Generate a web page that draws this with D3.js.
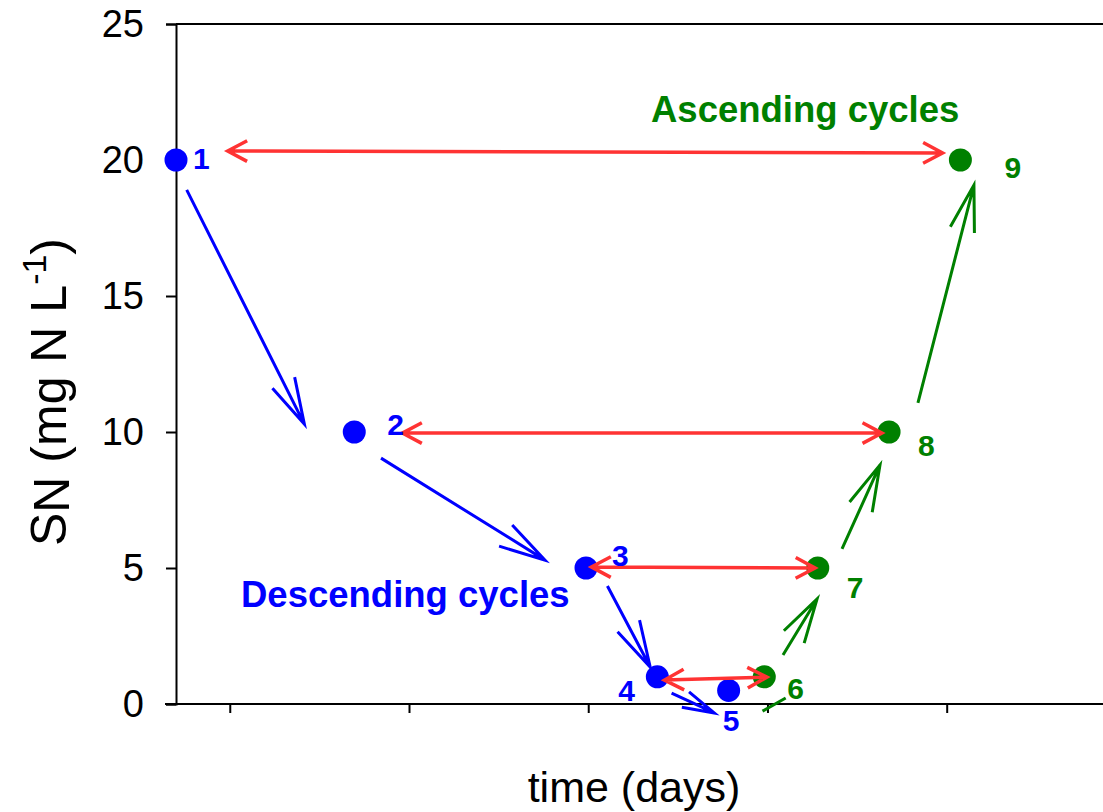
<!DOCTYPE html>
<html>
<head>
<meta charset="utf-8">
<script src="https://cdn.jsdelivr.net/npm/d3@7"></script>
<style>
  html, body { margin: 0; padding: 0; background: #fff; }
  svg { display: block; font-family: Arial, "Liberation Sans", sans-serif; }
</style>
</head>
<body>
<div id="chart"></div>
<script>
// cycle points: time (days) and S_N (mg N/L)
const pointIds = ['1', '2', '3', '4', '5', '6', '7', '8', '9'];
const timeVals = [0.7, 1.7, 3.0, 3.4, 3.8, 4.0, 4.3, 4.7, 5.1];
const snVals = [20, 10, 5, 1, 0.5, 1, 5, 10, 20];
const phase = ['desc', 'desc', 'desc', 'desc', 'desc', 'asc', 'asc', 'asc', 'asc'];

const yTicks = [0, 5, 10, 15, 20, 25];
const xTicks = [1, 2, 3, 4, 5];

// path arrows [x1, y1, x2, y2, head]
const descArrows = [
  [0.76, 18.9, 1.42, 10.29, true],
  [1.85, 9.04, 2.77, 5.29, true],
  [3.12, 4.34, 3.36, 1.36, true],
  [3.48, 0.4, 3.72, -0.33, true]
];
const ascArrows = [
  [3.99, -0.26, 4.12, 0.22, false],
  [4.105, 1.8, 4.296, 3.86, true],
  [4.436, 5.7, 4.649, 8.79, true],
  [4.862, 11.07, 5.176, 19.08, true]
];
// double arrows linking matching concentrations
const cycleLinks = [
  [0.99, 20.33, 5.0, 20.26],
  [1.97, 9.96, 4.66, 9.96],
  [3.03, 5.04, 4.285, 5.0],
  [3.44, 0.88, 4.015, 0.99]
];

// layout
const W = 1103, H = 812;
const colors = { desc: '#0000ff', asc: '#008000', link: '#ff3333' };
const labelOffsets = [[17, 9], [33, 3], [26, -2], [-39, 24], [-6, 41], [23, 22], [29, 30], [29, 24], [44, 18]];

const svg = d3.select('#chart').append('svg').attr('width', W).attr('height', H);

const x = d3.scaleLinear().domain([0.7, 5.9]).range([176, 1103]);
const y = d3.scaleLinear().domain([0, 25]).range([704, 24]);

// top frame line
svg.append('line')
  .attr('x1', x(0.7)).attr('x2', W + 5)
  .attr('y1', y(25)).attr('y2', y(25))
  .attr('stroke', '#000').attr('stroke-width', 2);

const yAxis = svg.append('g')
  .attr('transform', `translate(${x(0.7)},0)`)
  .call(d3.axisLeft(y).tickValues(yTicks).tickSize(10).tickPadding(22));
yAxis.select('.domain').attr('stroke-width', 2);
yAxis.selectAll('.tick line').attr('stroke-width', 2);
yAxis.selectAll('text').attr('font-size', 38).attr('font-family', 'Arial, "Liberation Sans", sans-serif').attr('fill', '#000');

const xAxis = svg.append('g')
  .attr('transform', `translate(0,${y(0)})`)
  .call(d3.axisBottom(x.copy().range([176, W + 5])).tickValues(xTicks).tickSize(9).tickFormat(''));
xAxis.select('.domain').attr('stroke-width', 2).attr('d', `M${x(0.7) - 11},0H${W + 5}`);
xAxis.selectAll('.tick line').attr('stroke-width', 2);

// axis titles
svg.append('text')
  .attr('x', 634).attr('y', 802)
  .attr('text-anchor', 'middle')
  .attr('font-size', 43)
  .text('time (days)');

const yt = svg.append('text')
  .attr('transform', 'translate(66,392) rotate(-90)')
  .attr('text-anchor', 'middle')
  .attr('font-size', 50);
yt.append('tspan').text('S');
yt.append('tspan').attr('dy', 3).text('N');
yt.append('tspan').attr('dy', -3).text(' (mg N L');
yt.append('tspan').attr('font-size', 34).attr('dy', -20).text('-1');
yt.append('tspan').attr('dy', 20).text(')');

function arrowPath(x1, y1, x2, y2, head, ang, start, end) {
  const dx = x2 - x1, dy = y2 - y1;
  const len = Math.hypot(dx, dy);
  const h = Math.min(head, len * 0.7);
  const a = Math.atan2(dy, dx);
  let d = `M${x1},${y1}L${x2},${y2}`;
  const hd = (tx, ty, dir) => {
    const p1 = [tx - h * Math.cos(dir - ang), ty - h * Math.sin(dir - ang)];
    const p2 = [tx - h * Math.cos(dir + ang), ty - h * Math.sin(dir + ang)];
    return `M${p1[0]},${p1[1]}L${tx},${ty}L${p2[0]},${p2[1]}`;
  };
  if (end) d += hd(x2, y2, a);
  if (start) d += hd(x1, y1, a + Math.PI);
  return d;
}

// path arrows
const pathArrows = descArrows.map(a => ({ a, c: colors.desc }))
  .concat(ascArrows.map(a => ({ a, c: colors.asc })));
svg.append('g').selectAll('path')
  .data(pathArrows)
  .join('path')
  .attr('d', d => arrowPath(x(d.a[0]), y(d.a[1]), x(d.a[2]), y(d.a[3]), 48, 15 * Math.PI / 180, false, d.a[4]))
  .attr('fill', 'none')
  .attr('stroke', d => d.c)
  .attr('stroke-width', 3)
  .attr('stroke-linecap', 'butt');

// points
const pts = pointIds.map((id, i) => ({ id, t: timeVals[i], s: snVals[i], p: phase[i], off: labelOffsets[i] }));
svg.append('g').selectAll('circle')
  .data(pts)
  .join('circle')
  .attr('cx', d => x(d.t))
  .attr('cy', d => y(d.s))
  .attr('r', 11.5)
  .attr('fill', d => colors[d.p]);

// red cycle links
svg.append('g').selectAll('path')
  .data(cycleLinks)
  .join('path')
  .attr('d', d => arrowPath(x(d[0]), y(d[1]), x(d[2]), y(d[3]), 22, 28 * Math.PI / 180, true, true))
  .attr('fill', 'none')
  .attr('stroke', colors.link)
  .attr('stroke-width', 3.5);

// point labels
svg.append('g').selectAll('text')
  .data(pts)
  .join('text')
  .attr('x', d => x(d.t) + d.off[0])
  .attr('y', d => y(d.s) + d.off[1])
  .attr('font-size', 30)
  .attr('font-weight', 'bold')
  .attr('fill', d => colors[d.p])
  .text(d => d.id);

svg.append('text')
  .attr('x', 651).attr('y', 122)
  .attr('font-size', 36.5).attr('font-weight', 'bold')
  .attr('fill', colors.asc)
  .text('Ascending cycles');

svg.append('text')
  .attr('x', 241).attr('y', 607)
  .attr('font-size', 36.5).attr('font-weight', 'bold')
  .attr('fill', colors.desc)
  .text('Descending cycles');
</script>
</body>
</html>
